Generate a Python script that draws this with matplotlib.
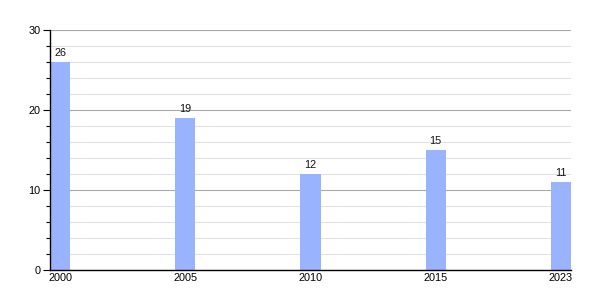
import matplotlib
matplotlib.use("Agg")
import matplotlib.pyplot as plt
from matplotlib.ticker import MultipleLocator

years = ["2000", "2005", "2010", "2015", "2023"]
values = [26, 19, 12, 15, 11]

plt.rcParams['font.family'] = ['Liberation Sans', 'DejaVu Sans']
fig = plt.figure(figsize=(6, 3), dpi=100)
ax = fig.add_axes([50/600, 30/300, 521/600, 240/300])
x = list(range(len(years)))
bars = ax.bar(x, values, width=0.16, color="#99b3ff", zorder=3)
for xi, v in zip(x, values):
    ax.text(xi, v + 0.45, str(v), ha="center", va="bottom", fontsize=7.8, color="#111111", zorder=4)
ax.set_xlim(-0.08, 4.08)
ax.set_ylim(0, 30)
ax.set_xticks(x)
ax.set_xticklabels(years)
ax.yaxis.set_major_locator(MultipleLocator(10))
ax.yaxis.set_minor_locator(MultipleLocator(2))
ax.grid(axis="y", which="major", color="#aaaaaa", linewidth=0.8, zorder=1)
ax.grid(axis="y", which="minor", color="#e2e2e2", linewidth=0.8, zorder=0)
for s in ["top", "right"]:
    ax.spines[s].set_visible(False)
for s in ["left", "bottom"]:
    ax.spines[s].set_linewidth(1)
    ax.spines[s].set_zorder(5)
ax.tick_params(axis="x", length=0, pad=2, labelsize=7.8)
ax.tick_params(axis="y", which="major", length=5, width=0.8, labelsize=7.8, pad=2)
ax.tick_params(axis="y", which="minor", length=3, width=0.8)
fig.savefig("out.png", dpi=100)
